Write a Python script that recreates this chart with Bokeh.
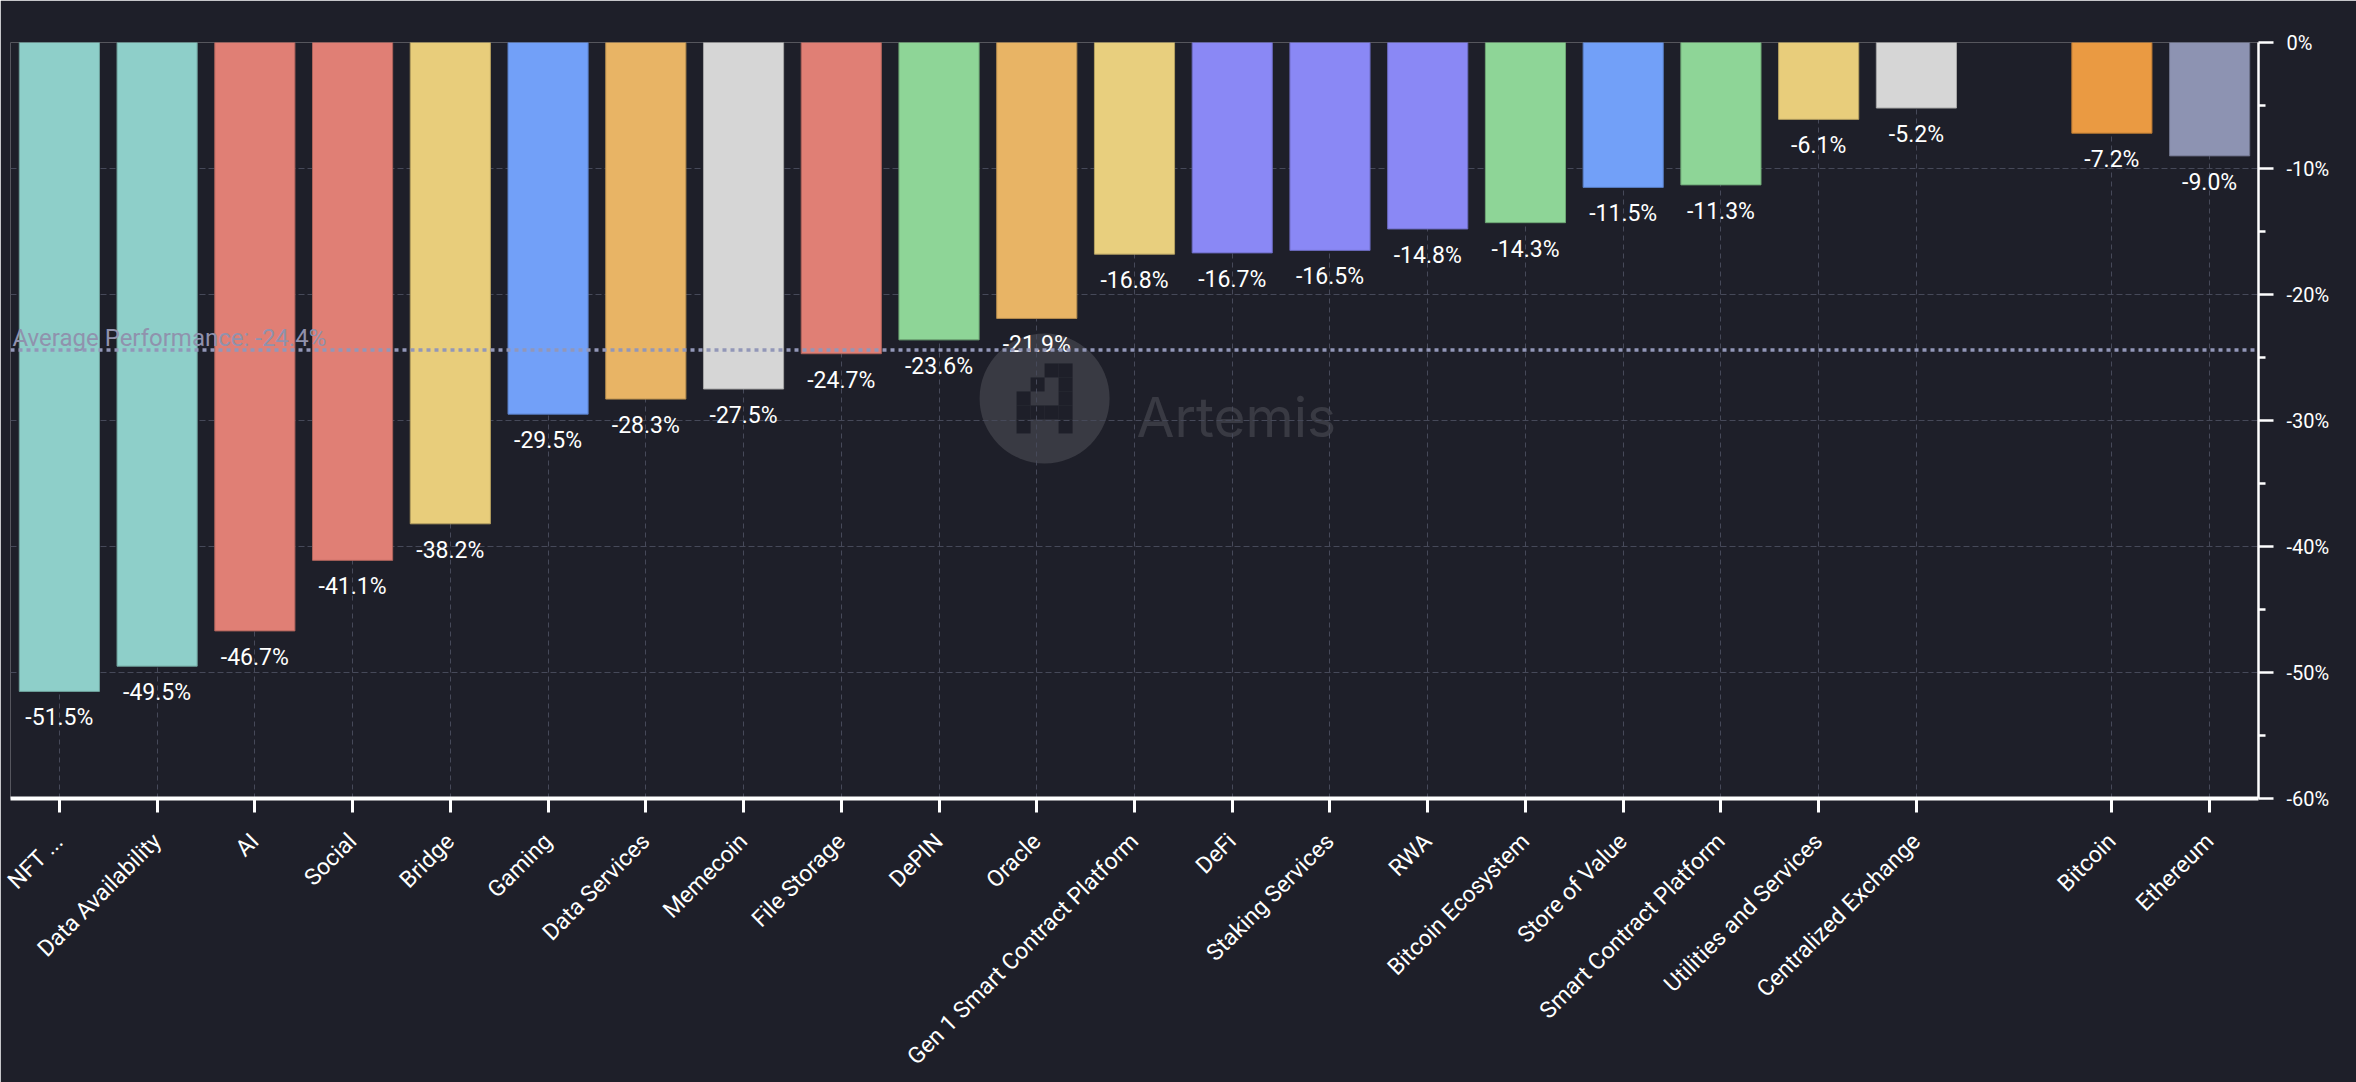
import math
from bokeh.plotting import figure
from bokeh.models import (ColumnDataSource, Range1d, FixedTicker, PrintfTickFormatter,
                          Span, Label)
from bokeh.core.properties import value
from bokeh.embed import file_html
from bokeh.resources import INLINE

# ---------------- data ----------------
sectors = ["NFT ...", "Data Availability", "AI", "Social", "Bridge", "Gaming",
           "Data Services", "Memecoin", "File Storage", "DePIN", "Oracle",
           "Gen 1 Smart Contract Platform", "DeFi", "Staking Services", "RWA",
           "Bitcoin Ecosystem", "Store of Value", "Smart Contract Platform",
           "Utilities and Services", "Centralized Exchange"]
sector_perf = [-51.5, -49.5, -46.7, -41.1, -38.2, -29.5, -28.3, -27.5, -24.7, -23.6,
               -21.9, -16.8, -16.7, -16.5, -14.8, -14.3, -11.5, -11.3, -6.1, -5.2]
sector_colors = ["#8ecfc9", "#8ecfc9", "#e07f75", "#e07f75", "#e8cd7b", "#72a0f8",
                 "#e8b465", "#d6d6d6", "#e07f75", "#8ed597", "#e8b465", "#e8cf7e",
                 "#8a88f5", "#8a88f5", "#8a88f5", "#8ed597", "#72a0f8", "#8ed597",
                 "#e8cd7b", "#d6d6d6"]

benchmarks = ["Bitcoin", "Ethereum"]
benchmark_perf = [-7.2, -9.0]
benchmark_colors = ["#ea9a42", "#8d93b2"]

average_perf = -24.4
y_ticks = [0, -10, -20, -30, -40, -50, -60]

# ---------------- styling ----------------
BG = "#1e1f29"
GRID = "#464959"
FONT = "Roboto"


def darker(hex_color, f=0.78):
    h = hex_color.lstrip("#")
    r, g, b = (int(h[i:i + 2], 16) for i in (0, 2, 4))
    return "#%02x%02x%02x" % (int(r * f), int(g * f), int(b * f))


# positions: sectors, then one empty slot, then benchmarks
labels = sectors + benchmarks
xs = list(range(len(sectors))) + [len(sectors) + 1 + i for i in range(len(benchmarks))]
vals = sector_perf + benchmark_perf
cols = sector_colors + benchmark_colors

src = ColumnDataSource(dict(
    x=xs, top=vals, color=cols, line=[darker(c) for c in cols],
    label=["%.1f%%" % v for v in vals],
))

n_slots = xs[-1] + 1

p = figure(width=2356, height=1082, output_backend="svg", toolbar_location=None,
           x_range=Range1d(-0.5, n_slots - 0.5), y_range=Range1d(min(y_ticks), 0),
           y_axis_location="right",
           min_border_left=10, min_border_right=98, min_border_top=42, min_border_bottom=284,
           background_fill_color=BG, border_fill_color=BG, outline_line_color=None)

# ---------------- watermark (behind the grid) ----------------
wm_x, wm_y = 10.08, -28.25          # logo centre (data coords)
px_x = (n_slots) / 2248.0           # data units per pixel, x
px_y = 60.0 / 756.0                 # data units per pixel, y
p.scatter([wm_x], [wm_y], size=130, marker="circle", fill_color="white",
          fill_alpha=0.12, line_color=None, level="image")
logo = ["..XX",
        ".X.X",
        "X..X",
        "XXXX",
        "X..X"]
bx, by = [], []
for r, row in enumerate(logo):
    for c, ch in enumerate(row):
        if ch == "X":
            bx.append(wm_x + (c - 1.5) * 14 * px_x)
            by.append(wm_y - (r - 2) * 14 * px_y)
p.rect(bx, by, width=14, height=14, width_units="screen", height_units="screen",
       fill_color=BG, line_color=None, level="image")
p.text([11.02], [-29.76], text=["Artemis"], text_font=value("Inter"),
       text_font_size="55px", text_color="white", text_alpha=0.12,
       text_baseline="alphabetic", text_align="left", level="image")

# ---------------- bars ----------------
p.vbar(x="x", top="top", bottom=0, width=0.82, source=src,
       fill_color="color", line_color="line", line_width=1)

p.text(x="x", y="top", text="label", source=src, text_align="center",
       text_baseline="top", y_offset=13, text_font=value(FONT),
       text_font_size="23px", text_color="white")

# ---------------- average line ----------------
p.add_layout(Span(location=average_perf, dimension="width", line_color="#9297b8",
                  line_width=3.5, line_dash="4 4"))
p.add_layout(Label(x=-0.5, y=average_perf, x_offset=2, y_offset=12,
                   text="Average Performance: %.1f%%" % average_perf,
                   text_font=FONT, text_font_size="24px", text_color="#9092ad",
                   text_baseline="alphabetic"))

# ---------------- axes / grid ----------------
xa = p.xaxis[0]
xa.ticker = FixedTicker(ticks=xs, minor_ticks=[])
xa.major_label_overrides = {x: l for x, l in zip(xs, labels)}
xa.major_label_orientation = math.pi / 4
xa.major_label_text_font = FONT
xa.major_label_text_font_size = "23px"
xa.major_label_text_color = "white"
xa.axis_line_color = "white"
xa.axis_line_width = 4
xa.major_tick_line_color = "white"
xa.major_tick_line_width = 3
xa.major_tick_in = 0
xa.major_tick_out = 14
xa.minor_tick_line_color = None
xa.major_label_standoff = 25

ya = p.yaxis[0]
ya.ticker = FixedTicker(ticks=y_ticks,
                        minor_ticks=[t - 5 for t in y_ticks[:-1]])
ya.formatter = PrintfTickFormatter(format="%d%%")
ya.major_label_text_font = FONT
ya.major_label_text_font_size = "20px"
ya.major_label_text_color = "white"
ya.axis_line_color = "white"
ya.axis_line_width = 2.5
ya.major_tick_line_color = "white"
ya.major_tick_line_width = 2.5
ya.major_tick_in = 0
ya.major_tick_out = 15
ya.minor_tick_line_color = "white"
ya.minor_tick_line_width = 2.5
ya.minor_tick_in = 0
ya.minor_tick_out = 7
ya.major_label_standoff = 13

p.xgrid.grid_line_color = GRID
p.xgrid.grid_line_dash = "5 4"
p.xgrid.grid_line_width = 1
p.ygrid.grid_line_color = GRID
p.ygrid.grid_line_dash = "6 3"
p.ygrid.grid_line_width = 1

open("out.html", "w").write(file_html(p, INLINE))
